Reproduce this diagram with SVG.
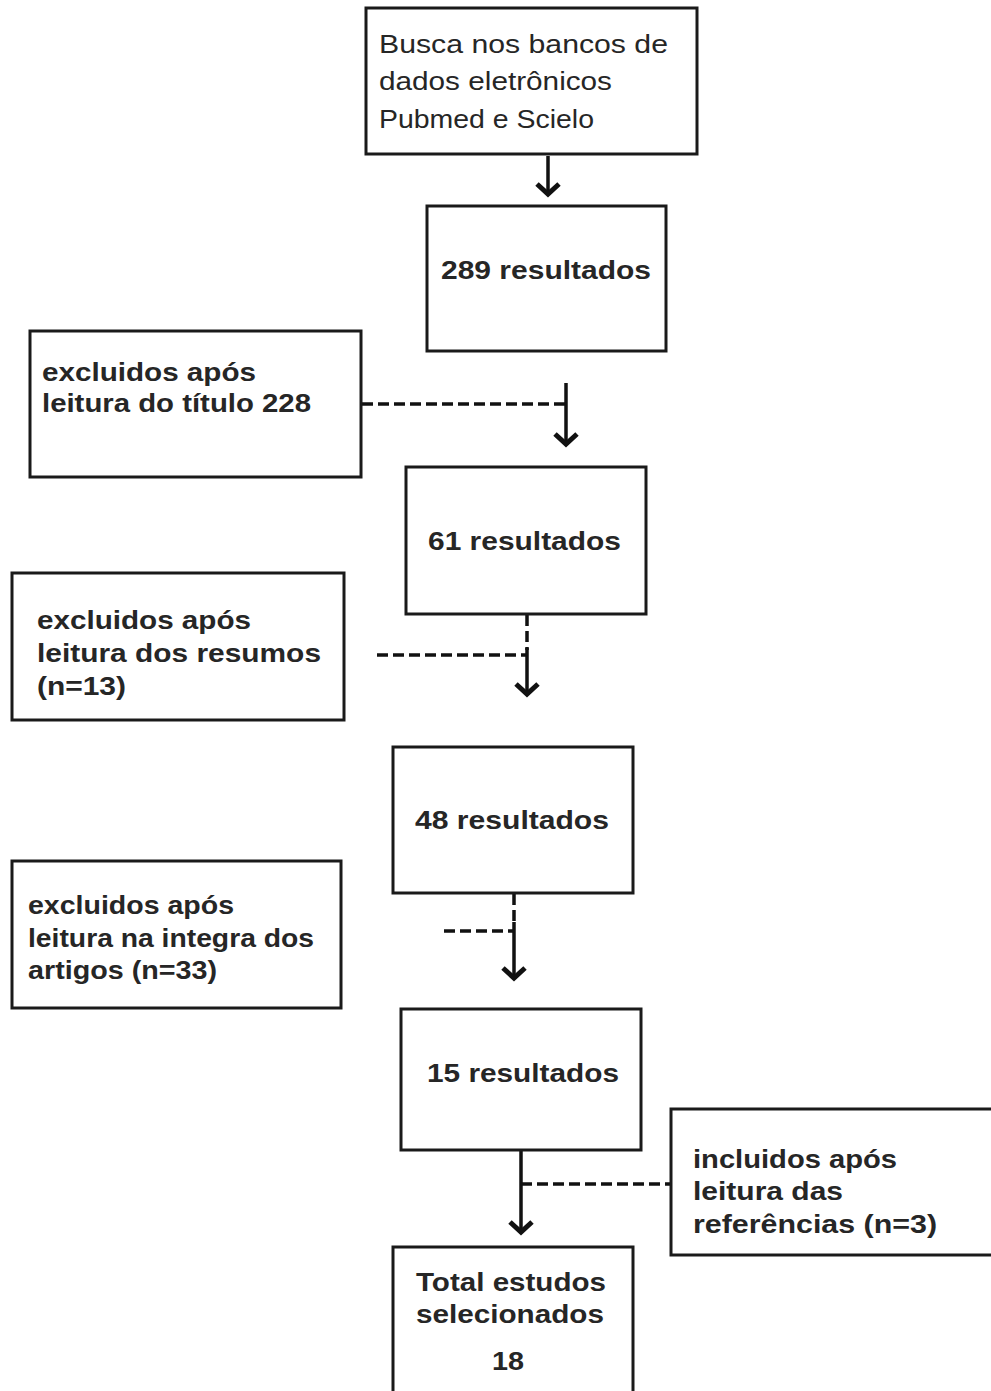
<svg xmlns="http://www.w3.org/2000/svg" width="991" height="1391" viewBox="0 0 991 1391">
<defs>
<style>
.box{fill:#fff;stroke:#1a1a1a;stroke-width:3}
.t{font-family:"Liberation Sans",Arial,sans-serif;fill:#262626;font-size:26px;font-weight:bold}
.r{font-family:"Liberation Sans",Arial,sans-serif;fill:#262626;font-size:25.5px}
.ln{stroke:#111;stroke-width:3.5;fill:none}
.ds{stroke:#111;stroke-width:3.5;fill:none;stroke-dasharray:11 5}
</style>
<marker id="arr" markerUnits="userSpaceOnUse" viewBox="-14 -14 18 28" refX="0" refY="0" markerWidth="18" markerHeight="28" orient="auto">
<path d="M-11,-11 L-1,0 L-11,11" fill="none" stroke="#111" stroke-width="5"/>
</marker>
</defs>
<rect width="991" height="1391" fill="#fff"/>

<g id="connectors">
<line class="ln" x1="548" y1="156" x2="548" y2="195" marker-end="url(#arr)"/>
<line class="ds" x1="362" y1="404" x2="566" y2="404"/>
<line class="ln" x1="566" y1="383" x2="566" y2="445" marker-end="url(#arr)"/>
<line class="ds" x1="527" y1="615" x2="527" y2="650"/>
<line class="ln" x1="527" y1="648" x2="527" y2="695" marker-end="url(#arr)"/>
<line class="ds" x1="377" y1="655" x2="527" y2="655"/>
<line class="ds" x1="514" y1="894" x2="514" y2="925"/>
<line class="ln" x1="514" y1="922" x2="514" y2="979" marker-end="url(#arr)"/>
<line class="ds" x1="444" y1="931" x2="514" y2="931"/>
<line class="ln" x1="521" y1="1151" x2="521" y2="1233" marker-end="url(#arr)"/>
<line class="ds" x1="521" y1="1184" x2="671" y2="1184"/>
</g>

<g id="n1">
<rect class="box" x="366" y="8" width="331" height="146"/>
<text class="r" x="379" y="53" textLength="289" lengthAdjust="spacingAndGlyphs">Busca nos bancos de</text>
<text class="r" x="379" y="90" textLength="233" lengthAdjust="spacingAndGlyphs">dados eletrônicos</text>
<text class="r" x="379" y="128" textLength="215" lengthAdjust="spacingAndGlyphs">Pubmed e Scielo</text>
</g>

<g id="n2">
<rect class="box" x="427" y="206" width="239" height="145"/>
<text class="t" x="441" y="279" textLength="210" lengthAdjust="spacingAndGlyphs">289 resultados</text>
</g>

<g id="n3">
<rect class="box" x="30" y="331" width="331" height="146"/>
<text class="t" x="42" y="381" textLength="214" lengthAdjust="spacingAndGlyphs">excluidos após</text>
<text class="t" x="42" y="412" textLength="269" lengthAdjust="spacingAndGlyphs">leitura do título 228</text>
</g>

<g id="n4">
<rect class="box" x="406" y="467" width="240" height="147"/>
<text class="t" x="428" y="550" textLength="193" lengthAdjust="spacingAndGlyphs">61 resultados</text>
</g>

<g id="n5">
<rect class="box" x="12" y="573" width="332" height="147"/>
<text class="t" x="37" y="629" textLength="214" lengthAdjust="spacingAndGlyphs">excluidos após</text>
<text class="t" x="37" y="662" textLength="284" lengthAdjust="spacingAndGlyphs">leitura dos resumos</text>
<text class="t" x="37" y="695" textLength="89" lengthAdjust="spacingAndGlyphs">(n=13)</text>
</g>

<g id="n6">
<rect class="box" x="393" y="747" width="240" height="146"/>
<text class="t" x="415" y="829" textLength="194" lengthAdjust="spacingAndGlyphs">48 resultados</text>
</g>

<g id="n7">
<rect class="box" x="12" y="861" width="329" height="147"/>
<text class="t" x="28" y="914" textLength="206" lengthAdjust="spacingAndGlyphs">excluidos após</text>
<text class="t" x="28" y="947" textLength="286" lengthAdjust="spacingAndGlyphs">leitura na integra dos</text>
<text class="t" x="28" y="979" textLength="189" lengthAdjust="spacingAndGlyphs">artigos (n=33)</text>
</g>

<g id="n8">
<rect class="box" x="401" y="1009" width="240" height="141"/>
<text class="t" x="427" y="1082" textLength="192" lengthAdjust="spacingAndGlyphs">15 resultados</text>
</g>

<g id="n9">
<rect class="box" x="671" y="1109" width="322" height="146"/>
<text class="t" x="693" y="1168" textLength="204" lengthAdjust="spacingAndGlyphs">incluidos após</text>
<text class="t" x="693" y="1200" textLength="150" lengthAdjust="spacingAndGlyphs">leitura das</text>
<text class="t" x="693" y="1233" textLength="244" lengthAdjust="spacingAndGlyphs">referências (n=3)</text>
</g>

<g id="n10">
<rect class="box" x="393" y="1247" width="240" height="150"/>
<text class="t" x="416" y="1291" textLength="190" lengthAdjust="spacingAndGlyphs">Total estudos</text>
<text class="t" x="416" y="1323" textLength="188" lengthAdjust="spacingAndGlyphs">selecionados</text>
<text class="t" x="492" y="1370" textLength="32" lengthAdjust="spacingAndGlyphs">18</text>
</g>
</svg>
